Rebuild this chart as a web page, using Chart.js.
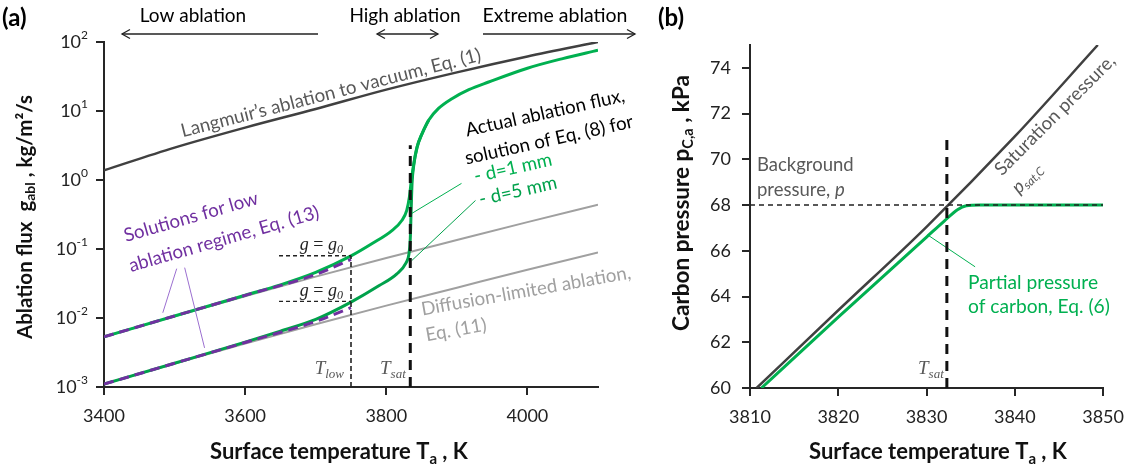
<!DOCTYPE html>
<html><head><meta charset="utf-8">
<script src="https://cdn.jsdelivr.net/npm/chart.js@4/dist/chart.umd.min.js"></script>
<style>
html,body{margin:0;padding:0;background:#fff;}
#wrap{position:relative;width:1134px;height:470px;overflow:hidden;background:#fff;}
#ca{position:absolute;left:0;top:0;}
#cb{position:absolute;left:650px;top:0;}
</style></head><body>
<div id="wrap"><canvas id="ca" width="650" height="470"></canvas><canvas id="cb" width="484" height="470"></canvas></div>
<script>
// ---------------- Panel (a) data ----------------
const xTicksA = [3400, 3600, 3800, 4000];
const yTicksA = [0.001, 0.01, 0.1, 1, 10, 100];
const yTickExpA = ['-3', '-2', '-1', '0', '1', '2'];

const tLangmuir = [3400, 3500, 3600, 3700, 3800, 3900, 4000, 4100];
const gLangmuir = [1.38, 2.95, 5.75, 10.7, 20.4, 36.3, 61.7, 100];

const tDiff = [3400, 3500, 3600, 3700, 3800, 3900, 4000, 4100];
const gDiff1 = [0.00533, 0.0106, 0.0207, 0.0398, 0.0741, 0.135, 0.245, 0.437];
const gDiff5 = [0.0011, 0.00219, 0.00427, 0.00813, 0.0151, 0.0275, 0.0501, 0.0891];

const tGreen1 = [3400, 3500, 3600, 3650, 3700, 3750, 3780, 3808, 3822, 3829, 3832.7, 3835.6, 3839, 3843.6, 3850.7, 3860, 3874, 3893, 3917, 3945, 4000, 4050, 4100];
const gGreen1 = [0.00533, 0.0107, 0.0214, 0.0302, 0.0457, 0.0794, 0.120, 0.185, 0.259, 0.363, 0.562, 1.0, 1.73, 3.01, 4.71, 7.35, 10.9, 15.1, 20.4, 26.3, 41.7, 57.5, 75.9];

const tGreen5 = [3400, 3500, 3600, 3650, 3700, 3750, 3790, 3815, 3828, 3832, 3834, 3835.2, 3836.5, 3839, 3843.6, 3850.7, 3860];
const gGreen5 = [0.0011, 0.00221, 0.00447, 0.00646, 0.00955, 0.0170, 0.0295, 0.0437, 0.0631, 0.0832, 0.141, 0.355, 0.891, 1.66, 2.95, 4.68, 7.35];

const tLow = [3400, 3500, 3600, 3700, 3750];
const gLow1 = [0.00533, 0.0107, 0.0213, 0.0427, 0.0708];
const gLow5 = [0.0011, 0.00221, 0.00442, 0.00891, 0.0141];

const tG0 = [3648, 3750];
const g0Upper = [0.080, 0.080];
const g0Lower = [0.0174, 0.0174];
const tTlow = [3750, 3750];
const gTlow = [0.001, 0.080];
const tTsatA = [3834, 3834];
const gTsatA = [0.001, 3.2];

const tLead1 = [3836, 3906.6];  const gLead1 = [0.327, 0.893];
const tLead5 = [3836, 3926.4];  const gLead5 = [0.0678, 0.505];
const tLeadP1 = [3503, 3483.3]; const gLeadP1 = [0.0519, 0.0119];
const tLeadP2 = [3514.3, 3542.5]; const gLeadP2 = [0.0537, 0.00369];

// ---------------- Panel (b) data ----------------
const xTicksB = [3810, 3820, 3830, 3840, 3850];
const yTicksB = [60, 62, 64, 66, 68, 70, 72, 74];
const tSat = [3810.75, 3820, 3830, 3840, 3849.4];
const pSat = [60, 63.4, 67.05, 71.0, 75.0];
const tPart = [3811.3, 3820, 3826, 3830, 3832, 3833.5, 3834.5, 3836, 3850];
const pPart = [60, 63.1, 65.2, 66.6, 67.3, 67.8, 67.97, 68.0, 68.0];
const tBg = [3810, 3850];  const pBg = [68, 68];
const tTsatB = [3832.3, 3832.3]; const pTsatB = [60, 71.07];
const tLeadB = [3830.1, 3835.5]; const pLeadB = [66.7, 65.3];

// ---------------- helpers ----------------
const xy = (ts, vs) => ts.map((t, i) => ({x: t, y: vs[i]}));
const FAM = 'Lato';
const GREEN1 = '#00b050', GREEN5 = '#00a14b', PURPLE = '#7030a0';
const LBL = 18.7;

function rich(ctx, segs, x, y, opt) {
  opt = opt || {};
  ctx.save();
  ctx.translate(x, y);
  if (opt.rot) ctx.rotate(opt.rot * Math.PI / 180);
  ctx.textBaseline = 'middle';
  ctx.textAlign = 'left';
  const fonts = segs.map(s => `${s.italic ? 'italic ' : ''}${(s.bold !== undefined ? s.bold : opt.bold) ? 'bold ' : ''}${s.size || opt.size || 18}px ${s.family || opt.family || FAM}`);
  let w = 0; const ws = [];
  segs.forEach((s, i) => { ctx.font = fonts[i]; const m = ctx.measureText(s.t).width; ws.push(m); w += m; });
  let cx = opt.align === 'center' ? -w / 2 : opt.align === 'right' ? -w : 0;
  segs.forEach((s, i) => { ctx.font = fonts[i]; ctx.fillStyle = s.color || opt.color || '#000'; ctx.fillText(s.t, cx, s.dy || 0); cx += ws[i]; });
  ctx.restore();
}
function txt(ctx, t, x, y, opt) { rich(ctx, [{t}], x, y, opt); }

function arrow(ctx, x1, x2, y, left, right) {
  ctx.save();
  ctx.strokeStyle = '#222'; ctx.lineWidth = 1.3;
  ctx.beginPath(); ctx.moveTo(x1, y); ctx.lineTo(x2, y); ctx.stroke();
  const h = 8, a = 4.5;
  if (left) { ctx.beginPath(); ctx.moveTo(x1 + h, y - a); ctx.lineTo(x1, y); ctx.lineTo(x1 + h, y + a); ctx.stroke(); }
  if (right) { ctx.beginPath(); ctx.moveTo(x2 - h, y - a); ctx.lineTo(x2, y); ctx.lineTo(x2 - h, y + a); ctx.stroke(); }
  ctx.restore();
}

function line(data, color, width, dash) {
  return {data, borderColor: color, borderWidth: width, borderDash: dash || [], pointRadius: 0,
    fill: false, cubicInterpolationMode: 'monotone', tension: 0.4, borderCapStyle: 'butt'};
}
function straight(data, color, width, dash) {
  const d = line(data, color, width, dash); d.tension = 0; d.cubicInterpolationMode = 'default'; return d;
}

const axisCommon = {
  grid: {drawOnChartArea: false, drawTicks: true, tickLength: 8, color: '#262626', lineWidth: 2},
  border: {display: true, color: '#262626', width: 2}
};
const plain = v => String(v);

// ---------------- Chart (a) ----------------
const annotA = {
  id: 'annotA',
  afterDraw(chart) {
    const ctx = chart.ctx, ys = chart.scales.y;
    yTicksA.forEach((v, i) => {
      rich(ctx, [{t: '10', size: 18, color: '#222'}, {t: yTickExpA[i], size: 12, dy: -7, color: '#222'}], 88, ys.getPixelForValue(v), {align: 'right'});
    });
    txt(ctx, '(a)', 2, 18, {size: 24, bold: true});
    txt(ctx, 'Low ablation', 193, 16, {align: 'center', size: 19});
    txt(ctx, 'High ablation', 405, 16, {align: 'center', size: 19});
    txt(ctx, 'Extreme ablation', 555, 16, {align: 'center', size: 19.5});
    arrow(ctx, 122, 318, 34, true, false);
    arrow(ctx, 377, 438, 34, true, true);
    arrow(ctx, 483, 635, 34, false, true);
    rich(ctx, [{t: 'Surface temperature T'}, {t: 'a', size: 15, dy: 7}, {t: ' , K'}], 339, 452, {align: 'center', bold: true, size: 22, color: '#111'});
    rich(ctx, [{t: 'Ablation flux  g'}, {t: 'abl', size: 14, dy: 5}, {t: ' , kg/m²/s'}], 25, 217, {align: 'center', bold: true, size: 20.5, rot: -90, color: '#111'});
    txt(ctx, 'Langmuir\u2019s ablation to vacuum, Eq. (1)', 331, 93, {align: 'center', size: LBL, rot: -14.4, color: '#595959'});
    txt(ctx, 'Actual ablation flux,', 545, 113, {align: 'center', size: LBL, rot: -12.5});
    txt(ctx, 'solution of Eq. (8) for', 549, 140, {align: 'center', size: LBL, rot: -12.5});
    txt(ctx, '- d=1 mm', 513, 168, {align: 'center', size: LBL, rot: -12.5, color: GREEN1});
    txt(ctx, '- d=5 mm', 518, 191, {align: 'center', size: LBL, rot: -12.5, color: GREEN5});
    txt(ctx, 'Solutions for low', 191, 217, {align: 'center', size: LBL, rot: -16, color: PURPLE});
    txt(ctx, 'ablation regime, Eq. (13)', 224, 239, {align: 'center', size: LBL, rot: -16, color: PURPLE});
    txt(ctx, 'Diffusion-limited ablation,', 526, 291, {align: 'center', size: LBL, rot: -10, color: '#a0a0a0'});
    txt(ctx, 'Eq. (11)', 456, 330, {align: 'center', size: LBL, rot: -10, color: '#a0a0a0'});
    const serif = 'Liberation Serif';
    rich(ctx, [{t: 'g', italic: true}, {t: ' = '}, {t: 'g', italic: true}, {t: '0', italic: true, size: 12, dy: 5}], 343, 245, {align: 'right', size: 18, family: serif, color: '#222'});
    rich(ctx, [{t: 'g', italic: true}, {t: ' = '}, {t: 'g', italic: true}, {t: '0', italic: true, size: 12, dy: 5}], 343, 291, {align: 'right', size: 18, family: serif, color: '#222'});
    rich(ctx, [{t: 'T', italic: true}, {t: 'low', italic: true, size: 13, dy: 6}], 344, 369, {align: 'right', size: 19, family: serif, color: '#595959'});
    rich(ctx, [{t: 'T', italic: true}, {t: 'sat', italic: true, size: 13, dy: 6}], 380, 369, {align: 'left', size: 19, family: serif, color: '#595959'});
  }
};

new Chart(document.getElementById('ca'), {
  type: 'line',
  data: {datasets: [
    straight(xy(tTsatA, gTsatA), '#111', 3, [10, 7]),
    straight(xy(tG0, g0Upper), '#222', 1.4, [4, 3]),
    straight(xy(tG0, g0Lower), '#222', 1.4, [4, 3]),
    straight(xy(tTlow, gTlow), '#222', 1.6, [5, 3]),
    line(xy(tLow, gLow1), PURPLE, 3, [10, 6]),
    line(xy(tLow, gLow5), PURPLE, 3, [10, 6]),
    straight(xy(tLeadP1, gLeadP1), '#9b6fd0', 1, []),
    straight(xy(tLeadP2, gLeadP2), '#9b6fd0', 1, []),
    straight(xy(tLead1, gLead1), GREEN1, 1, []),
    straight(xy(tLead5, gLead5), GREEN5, 1, []),
    line(xy(tGreen1, gGreen1), GREEN1, 3),
    line(xy(tGreen5, gGreen5), GREEN5, 3),
    line(xy(tLangmuir, gLangmuir), '#404040', 2.5),
    line(xy(tDiff, gDiff1), '#a0a0a0', 2),
    line(xy(tDiff, gDiff5), '#a0a0a0', 2)
  ]},
  options: {
    responsive: false, animation: false, devicePixelRatio: 1,
    layout: {padding: {left: 0, top: 42, right: 52, bottom: 0}},
    plugins: {legend: {display: false}, tooltip: {enabled: false}},
    scales: {
      x: Object.assign({}, axisCommon, {type: 'linear', min: 3400, max: 4100,
        afterBuildTicks: s => { s.ticks = xTicksA.map(v => ({value: v})); },
        afterFit: s => { s.height = 83; },
        ticks: {font: {family: FAM, size: 18}, color: '#222', padding: 10, maxRotation: 0, callback: plain}}),
      y: Object.assign({}, axisCommon, {type: 'logarithmic', min: 0.001, max: 100,
        afterBuildTicks: s => { s.ticks = yTicksA.map(v => ({value: v})); },
        afterFit: s => { s.width = 104; },
        ticks: {display: false}})
    }
  },
  plugins: [annotA]
});

// ---------------- Chart (b) ----------------
const annotB = {
  id: 'annotB',
  afterDraw(chart) {
    const ctx = chart.ctx;
    txt(ctx, '(b)', 8, 18, {size: 24, bold: true});
    rich(ctx, [{t: 'Surface temperature T'}, {t: 'a', size: 15, dy: 7}, {t: ' , K'}], 288, 452, {align: 'center', bold: true, size: 22, color: '#111'});
    rich(ctx, [{t: 'Carbon pressure p'}, {t: 'C,a', size: 14.5, dy: 6}, {t: ' , kPa'}], 32, 203, {align: 'center', bold: true, size: 22.5, rot: -90, color: '#111'});
    txt(ctx, 'Background', 107, 165, {size: 18.5, color: '#595959'});
    rich(ctx, [{t: 'pressure, '}, {t: 'p', italic: true}], 107, 190, {size: 18.5, color: '#595959'});
    txt(ctx, 'Saturation pressure,', 405, 115, {align: 'center', size: 18.5, rot: -45, color: '#595959'});
    rich(ctx, [{t: 'p', italic: true}, {t: 'sat,C', italic: true, size: 12, dy: 5}], 377, 178, {align: 'center', size: 18.5, rot: -45, color: '#595959'});
    txt(ctx, 'Partial pressure', 318, 283, {size: 19.2, color: GREEN1});
    txt(ctx, 'of carbon, Eq. (6)', 318, 307, {size: 19.2, color: GREEN1});
    rich(ctx, [{t: 'T', italic: true}, {t: 'sat', italic: true, size: 13, dy: 6}], 268, 369, {size: 19, family: 'Liberation Serif', color: '#595959'});
  }
};

new Chart(document.getElementById('cb'), {
  type: 'line',
  data: {datasets: [
    straight(xy(tTsatB, pTsatB), '#111', 3, [10, 7]),
    straight(xy(tBg, pBg), '#222', 1.5, [5, 4]),
    straight(xy(tLeadB, pLeadB), GREEN1, 1, []),
    line(xy(tPart, pPart), GREEN1, 3),
    line(xy(tSat, pSat), '#404040', 2.5)
  ]},
  options: {
    responsive: false, animation: false, devicePixelRatio: 1,
    layout: {padding: {left: 0, top: 45, right: 26, bottom: 0}},
    plugins: {legend: {display: false}, tooltip: {enabled: false}},
    scales: {
      x: Object.assign({}, axisCommon, {type: 'linear', min: 3810, max: 3850,
        afterBuildTicks: s => { s.ticks = xTicksB.map(v => ({value: v})); },
        afterFit: s => { s.height = 82; },
        ticks: {font: {family: FAM, size: 18}, color: '#222', padding: 10, maxRotation: 0, callback: plain}}),
      y: Object.assign({}, axisCommon, {type: 'linear', min: 60, max: 75,
        afterBuildTicks: s => { s.ticks = yTicksB.map(v => ({value: v})); },
        afterFit: s => { s.width = 100; },
        ticks: {font: {family: FAM, size: 18}, color: '#222', padding: 11, callback: plain}})
    }
  },
  plugins: [annotB]
});
</script>
</body></html>
